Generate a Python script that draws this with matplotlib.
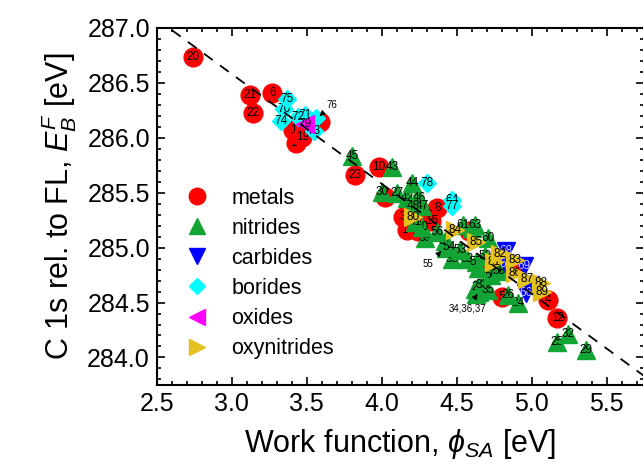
import numpy as np
import matplotlib
matplotlib.use('Agg')
import matplotlib.pyplot as plt
from matplotlib.lines import Line2D

plt.rcParams['font.family'] = ['Liberation Sans', 'DejaVu Sans']
plt.rcParams['mathtext.fontset'] = 'custom'
plt.rcParams['mathtext.rm'] = 'Liberation Sans'
plt.rcParams['mathtext.it'] = 'Liberation Sans:italic'

# metals
met_id = [13, 16, 1, 2, 3, 4, 5, 6, 7, 8, 9, 10, 11, 12, 14, 15, 17, 18, 19, 20, 21, 22, 23]
met_x = [4.89, 4.72, 3.41, 4.02, 4.14, 5.11, 4.80, 3.27, 3.59, 4.37, 4.31, 3.98, 4.58, 5.17,
         3.43, 4.33, 4.17, 4.24, 3.47, 2.74, 3.12, 3.14, 3.82]
met_y = [284.83, 284.81, 286.07, 285.46, 285.28, 284.52, 284.55, 286.41, 286.14, 285.36, 285.30,
         285.73, 285.15, 284.36, 285.95, 285.24, 285.16, 285.15, 286.01, 286.74, 286.39, 286.23, 285.66]

# nitrides
nit_id = [34, 36, 37, 55, 62, 49, 24, 25, 26, 27, 28, 29, 30, 31, 32, 33, 35, 38, 39, 40, 41, 42,
          43, 44, 45, 46, 47, 48, 50, 51, 52, 53, 54, 56, 57, 58, 59, 60, 61, 63]
nit_x = [4.62, 4.65, 4.63, 4.43, 4.60, 4.22, 4.91, 5.17, 4.84, 4.10, 4.64, 5.36, 4.00, 4.42, 5.24,
         4.67, 4.71, 4.47, 4.29, 4.27, 4.22, 4.17, 4.07, 4.20, 3.80, 4.25, 4.27, 4.21, 4.73, 4.64,
         4.57, 4.52, 4.45, 4.37, 4.63, 4.78, 4.69, 4.71, 4.54, 4.62]
nit_y = [284.62, 284.60, 284.58, 285.00, 285.18, 285.42, 284.50, 284.14, 284.57, 285.50, 284.64,
         284.07, 285.51, 285.06, 284.21, 284.66, 284.61, 284.90, 285.09, 285.19, 285.23, 285.45,
         285.73, 285.59, 285.83, 285.45, 285.38, 285.38, 284.75, 284.81, 284.90, 284.98, 285.01,
         285.14, 284.87, 284.79, 284.92, 285.09, 285.21, 285.21]

# carbides
car_id = [65, 66, 67, 68, 69]
car_x = [4.99, 4.96, 4.83, 4.83, 4.95]
car_y = [284.66, 284.59, 284.85, 284.97, 284.83]

# borides
bor_id = [76, 64, 70, 71, 72, 73, 74, 75, 77, 78]
bor_x = [3.56, 4.47, 3.35, 3.49, 3.44, 3.55, 3.33, 3.37, 4.47, 4.30]
bor_y = [286.18, 285.43, 286.26, 286.21, 286.19, 286.06, 286.15, 286.35, 285.38, 285.59]

# oxides
oxi_id = [79]
oxi_x = [3.49]
oxi_y = [286.13]

# oxynitrides
oxn_id = [80, 81, 82, 83, 84, 85, 86, 87, 88, 89]
oxn_x = [4.21, 4.75, 4.79, 4.89, 4.49, 4.63, 4.89, 4.97, 5.06, 5.07]
oxn_y = [285.28, 284.87, 284.94, 284.89, 285.16, 285.05, 284.77, 284.71, 284.68, 284.60]

hidden = [13, 16, 34, 36, 37, 55, 62, 49, 76, 65]

groups = [
    ('metals', met_id, met_x, met_y, 'o', '#ff0000', 13.5, 'k'),
    ('nitrides', nit_id, nit_x, nit_y, '^', '#12a535', 13.5, 'k'),
    ('carbides', car_id, car_x, car_y, 'v', '#0000ff', 13.5, '#c8c8ff'),
    ('borides', bor_id, bor_x, bor_y, 'D', '#00ffff', 9.5, 'k'),
    ('oxides', oxi_id, oxi_x, oxi_y, '<', '#ff00ff', 13.5, 'k'),
    ('oxynitrides', oxn_id, oxn_x, oxn_y, '>', '#e3c11f', 13.5, 'k'),
]

fig = plt.figure(figsize=(6.43, 4.66), dpi=100)
ax = fig.add_axes([0.244, 0.174, 0.758, 0.766])

# linear guide
lx = np.array([2.6, 5.75])
ax.plot(lx, 289.58 - lx, color='k', lw=1.3, dashes=(6, 5), zorder=1000)

z = 2
handles = []
for name, ids, xs, ys, mk, col, ms, tcol in groups:
    for i, x, y in zip(ids, xs, ys):
        ax.plot(x, y, marker=mk, ms=ms, color=col, mec=col, ls='none', zorder=z)
        if i not in hidden:
            ax.text(x, y, str(i), fontsize=8.5, color=tcol, ha='center', va='center', zorder=z + 1)
        z += 2
    handles.append(Line2D([], [], marker=mk, ms=ms * 0.88, color=col, ls='none', label=name))

ax.annotate('76', xy=(3.57, 286.18), xytext=(3.63, 286.27), fontsize=7, zorder=2000,
            arrowprops=dict(arrowstyle='-|>', color='k', lw=0.8, mutation_scale=8))
ax.annotate('55', xy=(4.41, 284.99), xytext=(4.31, 284.82), fontsize=7, ha='center', zorder=2000,
            arrowprops=dict(arrowstyle='-|>', color='k', lw=0.8, mutation_scale=8))
ax.annotate('34,36,37', xy=(4.65, 284.60), xytext=(4.57, 284.42), fontsize=7, ha='center', zorder=2000,
            arrowprops=dict(arrowstyle='-|>', color='k', lw=0.8, mutation_scale=8))

ax.legend(handles=handles, loc='upper left', bbox_to_anchor=(0.038, 0.552), frameon=False,
          fontsize=15.5, handletextpad=0.6, labelspacing=0.42, borderpad=0, borderaxespad=0)

ax.set_xlim(2.5, 5.75)
ax.set_ylim(283.75, 287.0)
ax.set_xticks(np.arange(2.5, 5.51, 0.5))
ax.set_yticks(np.arange(284.0, 287.01, 0.5))
ax.set_xticks(np.arange(2.5, 5.76, 0.1), minor=True)
ax.set_yticks(np.arange(283.8, 287.01, 0.1), minor=True)
ax.xaxis.set_major_formatter(plt.FormatStrFormatter('%.1f'))
ax.yaxis.set_major_formatter(plt.FormatStrFormatter('%.1f'))
ax.tick_params(which='both', direction='in', top=True, right=True, labelsize=18, width=1.2)
ax.tick_params(which='major', length=6, pad=5)
ax.tick_params(which='minor', length=3)
for s in ax.spines.values():
    s.set_linewidth(1.5)

ax.set_xlabel(r'Work function, $\phi_{SA}$ [eV]', fontsize=22, labelpad=8)
ax.set_ylabel(r'C 1s rel. to FL, $E_B^F$ [eV]', fontsize=22, labelpad=6)

fig.savefig('out.png', dpi=100)
